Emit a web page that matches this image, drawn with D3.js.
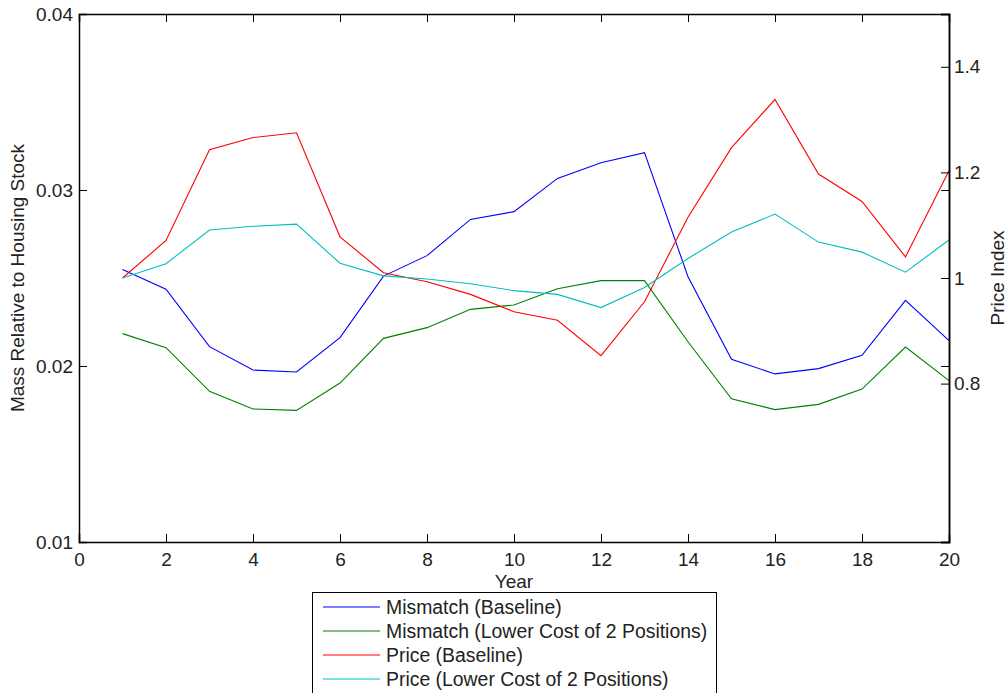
<!DOCTYPE html>
<html><head><meta charset="utf-8">
<script src="https://cdn.jsdelivr.net/npm/d3@7"></script>
<style>body{margin:0;background:#fff}svg{display:block}text{font-family:"Liberation Sans",Arial,sans-serif;fill:#222}</style>
</head><body><svg id="c" width="1007" height="693"></svg>
<script>
const years = d3.range(1, 21);
const mismatchBaseline = [0.02549,0.02436,0.0211,0.01977,0.01966,0.02161,0.02511,0.02627,0.02833,0.02877,0.03066,0.03155,0.03212,0.02507,0.02038,0.01955,0.01985,0.02061,0.02373,0.02144];
const mismatchLower = [0.02184,0.02104,0.01856,0.01756,0.01748,0.01903,0.02157,0.02218,0.02322,0.02347,0.02439,0.02485,0.02485,0.02138,0.01814,0.01752,0.01782,0.01869,0.02108,0.01917];
const priceBaseline = [1.0,1.071,1.243,1.266,1.275,1.078,1.010,0.993,0.969,0.936,0.920,0.853,0.955,1.115,1.247,1.338,1.197,1.145,1.040,1.203];
const priceLower = [1.0,1.027,1.091,1.098,1.102,1.028,1.004,0.998,0.989,0.976,0.969,0.944,0.982,1.037,1.087,1.121,1.068,1.049,1.011,1.072];
const xTicks = [0,2,4,6,8,10,12,14,16,18,20];
const leftTicks = [0.01,0.02,0.03,0.04];
const rightTicks = [0.8,1,1.2,1.4];
const legendLabels = ["Mismatch (Baseline)","Mismatch (Lower Cost of 2 Positions)","Price (Baseline)","Price (Lower Cost of 2 Positions)"];
const colors = ["#0000ff","#008000","#ff0000","#00bfbf"];

const FS=19;
const L=79,R=949,T=14,B=542;
const svg=d3.select("#c");
const x=d3.scaleLinear().domain([0,20]).range([L,R]);
const yl=d3.scaleLinear().domain([0.01,0.04]).range([B,T]);
const yr=d3.scaleLinear().domain([0.5,1.5]).range([B,T]);

const series=[
  {v:mismatchBaseline,s:yl},{v:mismatchLower,s:yl},{v:priceBaseline,s:yr},{v:priceLower,s:yr}
];
series.forEach((d,i)=>{
  const line=d3.line().x((v,j)=>x(years[j])).y(v=>d.s(v));
  svg.append("path").attr("d",line(d.v)).attr("fill","none").attr("stroke",colors[i]).attr("stroke-width",1.1);
});

const fmt=d=>String(+d.toFixed(2));
const gB=svg.append("g").attr("transform",`translate(0,${B})`).call(d3.axisBottom(x).tickValues(xTicks).tickSize(-8).tickPadding(11).tickFormat(fmt));
const gT=svg.append("g").attr("transform",`translate(0,${T})`).call(d3.axisTop(x).tickValues(xTicks).tickSize(-8).tickFormat(""));
const gL=svg.append("g").attr("transform",`translate(${L},0)`).call(d3.axisLeft(yl).tickValues(leftTicks).tickSize(-8).tickPadding(6).tickFormat(fmt));
const gR=svg.append("g").attr("transform",`translate(${R},0)`).call(d3.axisRight(yr).tickValues(rightTicks).tickSize(-8).tickPadding(5).tickFormat(fmt));
const gR2=svg.append("g").attr("transform",`translate(${R},0)`).call(d3.axisRight(yl).tickValues(leftTicks).tickSize(-8).tickFormat(""));
[gB,gT,gL,gR,gR2].forEach(g=>{
  g.select(".domain").attr("stroke","#000").attr("stroke-width",1.5);
  g.selectAll(".tick line").attr("stroke","#000").attr("stroke-width",1);
  g.selectAll(".tick text").attr("font-size",FS).attr("fill","#222").style("font-family","'Liberation Sans',Arial,sans-serif");
});

svg.append("text").attr("x",(L+R)/2).attr("y",588).attr("text-anchor","middle").attr("font-size",FS).text("Year");
svg.append("text").attr("transform","translate(24,278) rotate(-90)").attr("text-anchor","middle").attr("font-size",FS).text("Mass Relative to Housing Stock");
svg.append("text").attr("transform","translate(1004,278) rotate(-90)").attr("text-anchor","middle").attr("font-size",FS).text("Price Index");

const lg=svg.append("g");
lg.append("rect").attr("x",312.5).attr("y",592.5).attr("width",404).attr("height",110).attr("fill","#fff").attr("stroke","#000").attr("stroke-width",1);
legendLabels.forEach((t,i)=>{
  const yy=607+i*24;
  lg.append("line").attr("x1",323).attr("x2",380).attr("y1",yy).attr("y2",yy).attr("stroke",colors[i]).attr("stroke-width",1.1);
  lg.append("text").attr("x",386).attr("y",yy+7).attr("font-size",19.4).text(t);
});
</script></body></html>
